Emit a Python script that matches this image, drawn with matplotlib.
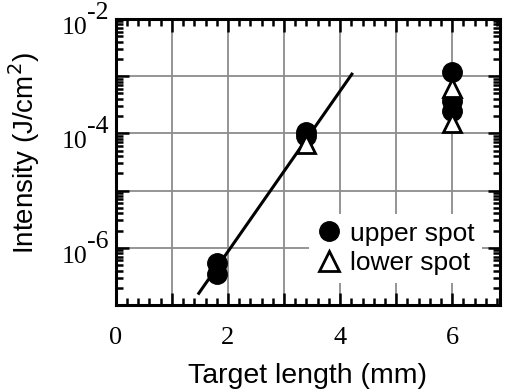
import numpy as np
import matplotlib.pyplot as plt
from matplotlib.ticker import MultipleLocator, LogLocator, NullFormatter

# data
upper_x = [1.8, 1.8, 3.4, 3.4, 6.0, 6.0, 6.0]
upper_y = [5.5e-7, 3.5e-7, 1.05e-4, 9.0e-5, 1.2e-3, 3.6e-4, 2.5e-4]
lower_x = [3.4, 6.0, 6.0]
lower_y = [6.5e-5, 6.2e-4, 1.5e-4]
fit_x = [1.48, 4.21]
fit_y = [1.6e-7, 1.08e-3]

x_ticks = [0, 1, 2, 3, 4, 5, 6]
x_labels = ['0', '', '2', '', '4', '', '6']
y_ticks = [1e-7, 1e-6, 1e-5, 1e-4, 1e-3, 1e-2]
y_label_exps = [-6, -4, -2]

fig = plt.figure(figsize=(5.08, 3.92), dpi=100)
ax = fig.add_axes([0.228, 0.222, 0.756, 0.730])

ax.plot(fit_x, fit_y, color='black', lw=2.2, zorder=3)
ax.plot(upper_x, upper_y, 'o', color='black', ms=14, ls='none',
        label='upper spot', zorder=4)
ax.plot(lower_x, lower_y, '^', mfc='white', mec='black', mew=2, ms=13,
        ls='none', label='lower spot', zorder=5)

ax.set_yscale('log')
ax.set_xlim(0, 6.85)
ax.set_ylim(1e-7, 1e-2)

ax.set_xticks(x_ticks)
ax.set_xticklabels(x_labels, family='Liberation Serif', fontsize=19)
ax.xaxis.set_minor_locator(MultipleLocator(0.2))
ax.set_yticks(y_ticks)
ax.set_yticklabels([''] * len(y_ticks))
ax.yaxis.set_minor_locator(LogLocator(base=10, subs=np.arange(2, 10)))
ax.yaxis.set_minor_formatter(NullFormatter())

# "10" with a nearly full-size exponent, as in the original
for e in y_label_exps:
    ax.annotate('10', xy=(0, 10.0 ** e), xycoords=('axes fraction', 'data'),
                xytext=(-20.5, -6.5), textcoords='offset points',
                ha='right', va='center', family='Liberation Serif', fontsize=18.5)
    ax.annotate(str(e), xy=(0, 10.0 ** e), xycoords=('axes fraction', 'data'),
                xytext=(-5.5, 4.3), textcoords='offset points',
                ha='right', va='center', family='Liberation Serif', fontsize=18.5)

ax.tick_params(which='both', direction='in', top=True, right=True,
               width=1.8, color='black')
ax.tick_params(which='major', length=9)
ax.tick_params(which='minor', length=5)
ax.tick_params(axis='x', which='major', pad=16)
for s in ax.spines.values():
    s.set_linewidth(2.2)

ax.grid(True, which='major', color='#8c8c8c', lw=1.3)
ax.set_axisbelow(True)

ax.set_xlabel('Target length (mm)', family='Liberation Sans', fontsize=20.5, labelpad=10)
ax.set_ylabel('Intensity (J/cm$^2$)', family='Liberation Sans', fontsize=20)
ax.yaxis.set_label_coords(-0.193, 0.53)

leg = ax.legend(loc='lower right', bbox_to_anchor=(0.975, 0.05),
                prop={'family': 'Liberation Sans', 'size': 19},
                frameon=True, fancybox=False, framealpha=1, edgecolor='none',
                handlelength=0.9, handletextpad=0.35, borderpad=0.3,
                labelspacing=0.2, borderaxespad=0.3)
for h in leg.legend_handles:
    h.set_markersize(14)

fig.savefig('out.png', dpi=100)
